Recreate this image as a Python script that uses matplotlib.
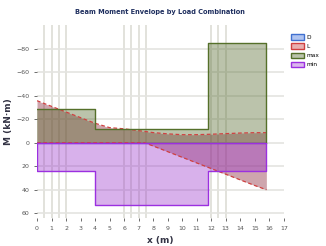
import matplotlib.pyplot as plt
import numpy as np

# beam stations (m)
seg_x = [0, 4, 4, 11.8, 11.8, 15.8]
max_vals = [-29, -29, -12, -12, -85, -85]      # green, step envelope
min_vals = [24, 24, 53, 53, 24, 24]            # purple, step envelope

red_x = [0, 2, 4, 5, 6, 7, 7.4, 8, 9, 10, 11, 12, 13, 14, 15, 15.8]
red_top = [-35.7, -26.1, -16.5, -12.8, -11.8, -10.2, -9.6, -8.6, -7.5, -6.8,
           -6.8, -7.2, -7.7, -8.2, -8.5, -8.5]
red_bot = [0, 0, 0, 0, 0, 0, 0, 2.8, 7.6, 12.4, 17.2, 22.0, 26.8, 31.6,
           36.4, 40.0]

stations = [0.5, 1, 1.5, 2, 6, 6.5, 7, 7.5, 12, 12.5, 13]
x_ticks = list(range(0, 18))
y_ticks = [-80, -60, -40, -20, 0, 20, 40, 60]
labels = ["D", "L", "max", "min"]

fig = plt.figure(figsize=(3.26, 2.46), dpi=100)
ax = fig.add_axes([0.1135, 0.114, 0.757, 0.784])

for s in stations:
    ax.axvline(s, color="#e2e2dc", lw=1.4, zorder=0)
ax.grid(axis="y", color="#e4e4e0", lw=1.2, zorder=0)
ax.set_axisbelow(True)

# blue case: zero everywhere
ax.fill_between(seg_x, 0, 0, color="#6495ed", alpha=0.45,
                edgecolor="#4070d0", label=labels[0])
ax.fill_between(red_x, red_bot, red_top, color="#8c2a3c", alpha=0.42,
                lw=0, label=labels[1], zorder=2)
ax.plot(red_x, red_top, color="#d04040", lw=0.9, ls=(0, (3, 2)), zorder=3)
ax.plot(red_x, red_bot, color="#d04040", lw=0.9, ls=(0, (3, 2)), zorder=3)
ax.fill_between(seg_x, 0, max_vals, color="#556b2f", alpha=0.4,
                lw=0, label=labels[2], zorder=2)
ax.plot(seg_x + [15.8], max_vals + [0], color="#55702a", lw=1.0, zorder=4)
ax.fill_between(seg_x, 0, min_vals, color="#9932cc", alpha=0.38,
                lw=0, label=labels[3], zorder=2)
ax.plot([0] + seg_x + [15.8, 0], [0] + min_vals + [0, 0],
        color="#9b30e0", lw=1.0, zorder=4)

ax.set_xlim(0, 17)
ax.set_ylim(64, -100)
ax.set_xticks(x_ticks)
ax.set_yticks(y_ticks)
ax.tick_params(labelsize=4.5, colors="#555555", length=2, width=0.6)
for sp in ax.spines.values():
    sp.set_visible(False)

ax.set_xlabel("x (m)", fontsize=6.5, fontweight="bold", color="#333344", labelpad=4)
ax.set_ylabel("M (kN·m)", fontsize=6.5, fontweight="bold", color="#333344", labelpad=2)
ax.set_title("Beam Moment Envelope by Load Combination", fontsize=4.8,
             fontweight="bold", color="#203060", pad=8)

handles = [
    plt.Rectangle((0, 0), 1, 1, fc="#b0c4f0", ec="#4070d0", lw=1),
    plt.Rectangle((0, 0), 1, 1, fc="#e8b0b0", ec="#d04040", lw=1),
    plt.Rectangle((0, 0), 1, 1, fc="#bbc4ac", ec="#55702a", lw=1),
    plt.Rectangle((0, 0), 1, 1, fc="#dbb7ed", ec="#9b30e0", lw=1),
]
fig.legend(handles, labels, loc="upper left", bbox_to_anchor=(0.885, 0.87),
           frameon=False, fontsize=4.2, handlelength=2.2, handleheight=1.0,
           labelspacing=0.6, handletextpad=0.5, borderaxespad=0)

fig.savefig("out.png", dpi=100)
